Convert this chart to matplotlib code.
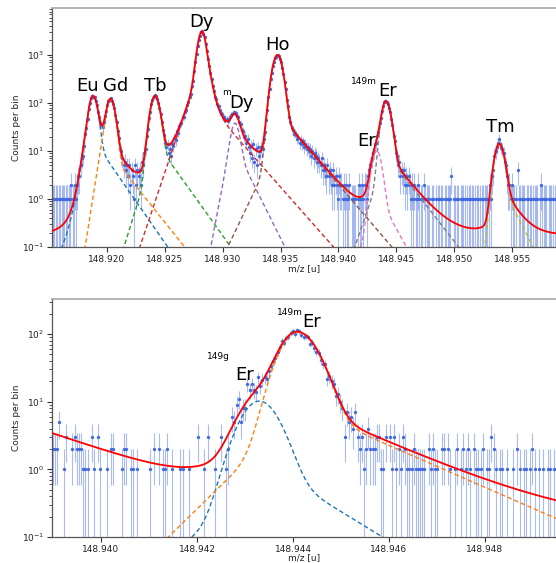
import numpy as np
import matplotlib
matplotlib.use("Agg")
import matplotlib.pyplot as plt
from matplotlib.colors import to_rgba

# ---------------- data (counts per bin) ----------------
top_start = 148.91535          # centre of first bin, top panel
top_step = 0.0001              # bin width [u], top panel
top_counts = [
    1, 1, 0, 1, 1, 1, 1, 0, 1, 1, 1, 1, 1, 0, 1, 1, 2, 1,
    1, 2, 1, 2, 3, 3, 5, 7, 8, 13,
    23, 30, 46, 76, 98, 125, 140, 136, 131, 110, 92, 66,
    52, 38, 35, 32, 41, 53, 68, 91, 112, 118,
    125, 112, 96, 80, 55, 41, 26, 19, 11, 10,
    7, 5, 6, 4, 5, 3, 5, 2, 4, 3,
    1, 5, 2, 4, 3, 4, 2, 6, 5, 9,
    11, 21, 29, 49, 66, 95, 118, 130, 144, 138,
    120, 98, 77, 59, 40, 28, 22, 15, 12, 14,
    9, 11, 8, 14, 13, 19, 17, 26, 24, 33,
    36, 38, 50, 52, 66, 72, 91, 104, 136, 155,
    221, 290, 470, 705, 1060, 1510, 2050, 2530, 3050, 3080,
    2790, 2350, 1690, 1200, 830, 600, 415, 312, 225, 181,
    136, 119, 93, 86, 70, 62, 59, 51, 52, 44,
    47, 42, 46, 50, 57, 58, 65, 61, 62, 53,
    50, 40, 36, 27, 26, 20, 21, 15, 18, 12,
    9, 13, 7, 14, 6, 11, 5, 12, 8, 10,
    12, 11, 18, 25, 45, 72, 131, 196, 310, 418,
    580, 700, 845, 905, 1010, 950, 830, 710, 535, 410,
    270, 192, 116, 85, 50, 40, 30, 28, 23, 24,
    22, 18, 19, 15, 17, 14, 16, 12, 14, 11,
    12, 10, 11, 8, 10, 7, 9, 8, 6, 7,
    6, 5, 7, 4, 5, 4, 3, 5, 3, 4,
    3, 2, 4, 2, 3, 2, 1, 3, 2, 2,
    1, 2, 1, 2, 1, 1, 2, 0, 1, 1,
    1, 1, 0, 1, 2, 1, 1, 2, 1, 2,
    2, 1, 3, 4, 5, 7, 9, 10, 14, 15,
    21, 25, 38, 48, 68, 86, 105, 112, 103, 97,
    78, 65, 46, 35, 21, 16, 9, 8, 5, 6,
    3, 4, 3, 4, 2, 3, 2, 3, 2, 1,
    2, 1, 2, 1, 1, 2, 1, 0, 1, 1,
    2, 1, 0, 1, 1, 1, 0, 1, 1, 0,
    0, 1, 1, 1, 0, 1, 1, 0, 1, 1,
    0, 1, 1, 1, 3, 0, 1, 1, 0, 1,
    1, 0, 1, 1, 1, 0, 1, 1, 0, 1,
    1, 0, 1, 1, 1, 0, 1, 1, 0, 1,
    1, 1, 0, 1, 1, 1, 1, 2, 1, 3,
    4, 8, 10, 12, 15, 18, 14, 12, 11, 9,
    6, 5, 3, 2, 2, 1, 2, 1, 1, 0,
    1, 4, 1, 1, 0, 1, 1, 1, 0, 1,
    1, 0, 1, 1, 1, 0, 1, 1, 1, 0,
    1, 2, 1, 0, 1, 1, 1, 0, 1, 1,
    1, 0, 1, 1, 1,
]

bot_start = 148.93900          # centre of first bin, bottom panel
bot_step = 0.000045            # bin width [u], bottom panel
bot_counts = [
    2, 2, 2, 5, 0, 1, 3, 0, 0, 2,
    3, 2, 2, 2, 1, 1, 1, 0, 3, 1,
    0, 3, 1, 0, 0, 1, 0, 2, 2, 0,
    0, 0, 1, 2, 2, 0, 1, 1, 0, 1,
    0, 0, 0, 0, 0, 1, 0, 2, 0, 2,
    0, 1, 1, 2, 0, 1, 0, 0, 0, 1,
    1, 0, 0, 1, 0, 0, 0, 3, 0, 0,
    1, 0, 3, 0, 0, 1, 0, 0, 3, 0,
    1, 2, 0, 6, 5, 9, 11, 5, 8, 8,
    18, 15, 18, 15, 14, 23, 17, 21, 23, 22,
    28, 34, 40, 45, 55, 65, 78, 75, 88, 90,
    104, 110, 100, 113, 110, 98, 90, 95, 90, 72,
    75, 62, 55, 53, 41, 36, 36, 22, 24, 20,
    18, 12, 13, 10, 8, 3, 7, 5, 6, 4,
    7, 3, 2, 3, 1, 2, 4, 2, 2, 2,
    3, 3, 1, 1, 3, 0, 3, 1, 3, 1,
    2, 1, 3, 2, 1, 1, 1, 2, 1, 1,
    1, 1, 1, 0, 2, 1, 2, 1, 1, 0,
    2, 2, 0, 2, 1, 0, 1, 2, 0, 1,
    2, 1, 2, 1, 0, 2, 1, 1, 1, 2,
    0, 1, 1, 3, 2, 1, 0, 1, 1, 0,
    1, 0, 0, 1, 0, 2, 1, 0, 1, 1,
    0, 1, 2, 1, 0, 1, 0, 1, 0, 1,
    1, 0, 1, 1,
]

# ---------------- fitted peak parameters ----------------
# centroid [u], amplitude, sigma left/right, near tails left/right,
# far-tail-left weight/length, far-tail-right weight/length
top_names = ["Eu", "Gd", "Tb", "Dy", "mDy", "Ho", "149gEr", "149mEr", "Tm"]
top_mu = [148.91882, 148.92033, 148.92417, 148.92822, 148.93107, 148.93474, 148.94330, 148.94409, 148.95388]
top_amp = [140, 118, 140, 3100, 38, 1000, 10.2, 107, 14]
top_sl = [0.000328, 0.000328, 0.000345, 0.000311, 0.000328, 0.000388, 0.00035, 0.00032, 0.00036]
top_sr = [0.000328, 0.000328, 0.000345, 0.000293, 0.000328, 0.000371, 0.00035, 0.000363, 0.00036]
top_tl = [0.000259, 0.000285, 0, 0, 0.000345, 0, 0, 0, 0]
top_tr = [0, 0, 0, 0.000285, 0, 0, 0, 0, 0]
top_eL = [0.013, 0, 0.07, 0.2, 0, 0.013, 0.05, 0.06, 0.02]
top_TL = [0.00088, 0, 0.00056, 0.000604, 0, 0.000863, 0.0008, 0.000625, 0.000863]
top_eR = [0.12, 0.07, 0.11, 0.04, 0.3, 0.059, 0.12, 0.08, 0.15]
top_TR = [0.00125, 0.00144, 0.00129, 0.00159, 0.000897, 0.00154, 0.001, 0.0014, 0.00094]
top_bkg = 0.18

bot_idx = [6, 7]               # 149gEr, 149mEr re-used in the zoomed fit
bot_bkg_const = 0.15
bot_bkg_amp = 3.25
bot_bkg_len = 0.00175
bot_bkg_x0 = 148.939

top_xlim = (148.91528, 148.95877)
bot_xlim = (148.93898, 148.94948)
top_ylim = (0.1, 9.5e3)
bot_ylim = (0.1, 330)
top_xticks = [148.920, 148.925, 148.930, 148.935, 148.940, 148.945, 148.950, 148.955]
bot_xticks = [148.940, 148.942, 148.944, 148.946, 148.948]


# ---------------- model ----------------
def core(d, sl, sr, tl, tr):
    out = np.where(d < 0, np.exp(-d ** 2 / (2 * sl ** 2)), np.exp(-d ** 2 / (2 * sr ** 2)))
    if tl > 0:
        b = sl ** 2 / tl
        m = d < -b
        out[m] = np.exp(sl ** 2 / (2 * tl ** 2) + d[m] / tl)
    if tr > 0:
        b = sr ** 2 / tr
        m = d > b
        out[m] = np.exp(sr ** 2 / (2 * tr ** 2) - d[m] / tr)
    return out


def peak(x, k):
    d = x - top_mu[k]
    eL, eR = top_eL[k], top_eR[k]
    f = (1 - eL - eR) * core(d, top_sl[k], top_sr[k], top_tl[k], top_tr[k])
    if eL > 0:
        f = f + eL * core(d, top_sl[k], top_sr[k], top_TL[k], 0)
    if eR > 0:
        f = f + eR * core(d, top_sl[k], top_sr[k], 0, top_TR[k])
    return top_amp[k] * f


# ---------------- figure ----------------
W, H = 556, 563
fig = plt.figure(figsize=(W / 100, H / 100), dpi=100)
ax1 = fig.add_axes([52 / W, 316 / H, 504 / W, 239 / H])
ax2 = fig.add_axes([52 / W, 26 / H, 504 / W, 238 / H])

pt_col = "royalblue"
err_col = to_rgba("royalblue", 0.45)


def draw_data(ax, start, step, counts):
    c = np.asarray(counts, dtype=float)
    x = start + step * np.arange(len(c))
    m = c > 0
    ax.errorbar(x[m], c[m], yerr=np.sqrt(c[m]), fmt="o", ms=2.4, mew=0,
                color=pt_col, ecolor=err_col, elinewidth=0.8, capsize=1.0,
                capthick=0.6, zorder=1)


for ax in (ax1, ax2):
    ax.set_yscale("log", nonpositive="clip")

draw_data(ax1, top_start, top_step, top_counts)
draw_data(ax2, bot_start, bot_step, bot_counts)

colors = plt.rcParams["axes.prop_cycle"].by_key()["color"]

xt = np.linspace(top_xlim[0], top_xlim[1], 6000)
total = np.full_like(xt, top_bkg)
for k in range(len(top_names)):
    yk = peak(xt, k)
    total += yk
    ax1.plot(xt, yk, ls=(0, (3.2, 2.0)), lw=1.0, color=colors[k % 10], zorder=2)
ax1.plot(xt, total, color="red", lw=1.3, zorder=3)

xb = np.linspace(bot_xlim[0], bot_xlim[1], 3000)
totb = bot_bkg_const + bot_bkg_amp * np.exp(-(xb - bot_bkg_x0) / bot_bkg_len)
for n, k in enumerate(bot_idx):
    yk = peak(xb, k)
    totb = totb + yk
    ax2.plot(xb, yk, ls=(0, (3.2, 2.0)), lw=1.0, color=colors[n], zorder=2)
ax2.plot(xb, totb, color="red", lw=1.3, zorder=3)

ax1.set_xlim(*top_xlim)
ax1.set_ylim(*top_ylim)
ax2.set_xlim(*bot_xlim)
ax2.set_ylim(*bot_ylim)
ax1.set_xticks(top_xticks)
ax1.set_xticklabels([f"{v:.3f}" for v in top_xticks])
ax2.set_xticks(bot_xticks)
ax2.set_xticklabels([f"{v:.3f}" for v in bot_xticks])

for ax in (ax1, ax2):
    ax.tick_params(axis="both", which="major", labelsize=6.5, length=3.5, width=0.8,
                   pad=2, colors="#333333", labelcolor="#222222")
    ax.tick_params(axis="y", which="minor", length=2, width=0.6, colors="#333333")
    ax.spines["right"].set_visible(False)
    ax.spines["top"].set_color("#a8a8a8")
    ax.spines["top"].set_linewidth(1.2)
    for s in ("left", "bottom"):
        ax.spines[s].set_color("#555555")
        ax.spines[s].set_linewidth(0.9)
    ax.set_xlabel("m/z [u]", fontsize=6.5, color="#222222")
    ax.set_ylabel("Counts per bin", fontsize=6.5, color="#222222")
    ax.yaxis.set_label_coords(-31 / 504, 0.5)

ax1.xaxis.set_label_coords(0.5, -17 / 239)
ax2.xaxis.set_label_coords(0.5, -16 / 238)

BIG = 13
SMALL = 6.5


def lab(ax, x, y, s, size=BIG, ha="center"):
    ax.text(x, y, s, fontsize=size, ha=ha, va="baseline", color="black", zorder=5)


# top-panel labels
lab(ax1, 148.91836, 174, "Eu")
lab(ax1, 148.92080, 174, "Gd")
lab(ax1, 148.92423, 174, "Tb")
lab(ax1, 148.92822, 3900, "Dy")
lab(ax1, 148.93159, 78, "Dy")
lab(ax1, 148.93032, 148, "m", SMALL)
lab(ax1, 148.93478, 1260, "Ho")
lab(ax1, 148.94243, 12.8, "Er")
lab(ax1, 148.94420, 141, "Er")
lab(ax1, 148.94335, 248, "149m", SMALL, ha="right")
lab(ax1, 148.95394, 25.4, "Tm")

# bottom-panel labels
lab(ax2, 148.94438, 127, "Er")
lab(ax2, 148.94420, 190, "149m", SMALL, ha="right")
lab(ax2, 148.94300, 20.7, "Er")
lab(ax2, 148.94269, 42.4, "149g", SMALL, ha="right")

fig.savefig("out.png", dpi=100)
